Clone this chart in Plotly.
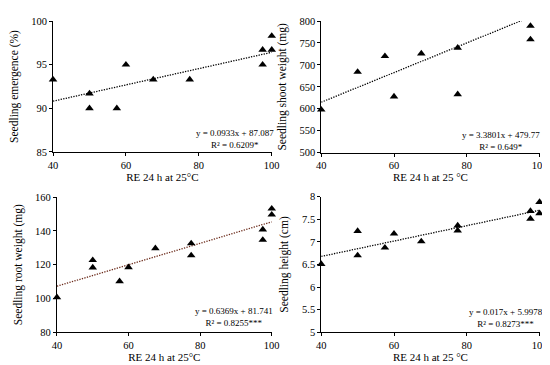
import plotly.graph_objects as go

# ---- data ----
x_emerg = [40, 50, 50, 57.5, 60, 67.5, 77.5, 97.5, 97.5, 100, 100]
y_emerg = [93.3, 91.7, 90.0, 90.0, 95.0, 93.3, 93.3, 96.7, 95.0, 98.3, 96.7]

x_shoot = [40, 50, 57.5, 60, 67.5, 77.5, 77.5, 97.5, 97.5]
y_shoot = [598, 684, 720, 628, 726, 739, 633, 789, 758]

x_root = [40, 50, 50, 57.5, 60, 67.5, 77.5, 77.5, 97.5, 97.5, 100, 100]
y_root = [100.6, 122.7, 118.3, 110.1, 118.4, 129.7, 132.6, 125.5, 140.8, 134.7, 153.2, 149.7]

x_height = [40, 50, 50, 57.5, 60, 67.5, 77.5, 77.5, 97.5, 97.5, 100, 100]
y_height = [6.51, 7.24, 6.70, 6.87, 7.18, 7.01, 7.36, 7.25, 7.68, 7.51, 7.88, 7.63]

# regression coefficients (slope, intercept) and fit x-span
fit_emerg = (0.0933, 87.087, 40, 100)
fit_shoot = (3.3801, 479.77, 40, 97.5)
fit_root = (0.6369, 81.741, 40, 100)
fit_height = (0.017, 5.9978, 40, 100)

eq_text = [
    "y = 0.0933x + 87.087<br>R² = 0.6209*",
    "y = 3.3801x + 479.77<br>R² = 0.649*",
    "y = 0.6369x + 81.741<br>R² = 0.8255***",
    "y = 0.017x + 5.9978<br>R² = 0.8273***",
]
y_titles = ["Seedling emergence (%)", "Seedling shoot weight (mg)",
            "Seedling root weight (mg)", "Seedling height (cm)"]
x_titles = ["RE 24 h at 25°C", "RE 24 h at 25 °C", "RE 24 h at 25°C", "RE 24 h at 25 °C"]
y_ranges = [[85, 100], [500, 800], [80, 160], [5, 8]]
y_dticks = [5, 50, 20, 0.5]

W, H = 550, 365
# panel pixel boxes (left, right, top, bottom)
boxes = [(41, 265, 8.3, 143.3), (315.7, 539.3, 8.3, 144),
         (45, 265, 190, 329), (315.7, 539.3, 189.3, 329.3)]
eq_pos = [(227, 130), (500, 132), (226, 313), (505, 314.5)]
trend_colors = ["black", "black", "#6b2a1a", "black"]

fig = go.Figure()
FONT = "Liberation Serif"

datasets = [(x_emerg, y_emerg, fit_emerg), (x_shoot, y_shoot, fit_shoot),
            (x_root, y_root, fit_root), (x_height, y_height, fit_height)]

layout = {}
for i, (xs, ys, fit) in enumerate(datasets):
    n = "" if i == 0 else str(i + 1)
    xa, ya = "x" + n, "y" + n
    a, b, x0, x1 = fit
    fx = [x0, x1]
    fy = [a * x0 + b, a * x1 + b]
    fig.add_trace(go.Scatter(x=fx, y=fy, mode="lines", xaxis=xa, yaxis=ya,
                             line=dict(color=trend_colors[i], width=1.3, dash="1.3px,1.3px"),
                             showlegend=False, hoverinfo="skip"))
    fig.add_trace(go.Scatter(x=xs, y=ys, mode="markers", xaxis=xa, yaxis=ya,
                             marker=dict(symbol="triangle-up", size=7.5, color="black"),
                             cliponaxis=False, showlegend=False))
    l, r, t, btm = boxes[i]
    layout["xaxis" + n] = dict(
        domain=[l / W, r / W], anchor=ya, range=[40, 100], dtick=20, tick0=40,
        showline=True, linecolor="black", linewidth=1, ticks="outside", ticklen=3,
        tickcolor="black", showgrid=False, zeroline=False,
        tickfont=dict(family=FONT, size=10.5, color="black"),
        title=dict(text=x_titles[i], font=dict(family=FONT, size=11, color="black"), standoff=2))
    layout["yaxis" + n] = dict(
        domain=[1 - btm / H, 1 - t / H], anchor=xa, range=y_ranges[i], dtick=y_dticks[i],
        showline=True, linecolor="black", linewidth=1, ticks="outside", ticklen=3,
        tickcolor="black", showgrid=False, zeroline=False,
        tickfont=dict(family=FONT, size=10.5, color="black"),
        title=dict(text=y_titles[i], font=dict(family=FONT, size=11.5, color="black"), standoff=10))
    ex, ey = eq_pos[i]
    fig.add_annotation(x=ex / W, y=1 - ey / H, xref="paper", yref="paper",
                       xanchor="center", yanchor="middle",
                       text=eq_text[i], showarrow=False, align="center",
                       font=dict(family=FONT, size=9, color="black"))

fig.update_layout(width=W, height=H, margin=dict(l=0, r=0, t=0, b=0),
                  plot_bgcolor="white", paper_bgcolor="white", **layout)
fig.write_html("out.html")
